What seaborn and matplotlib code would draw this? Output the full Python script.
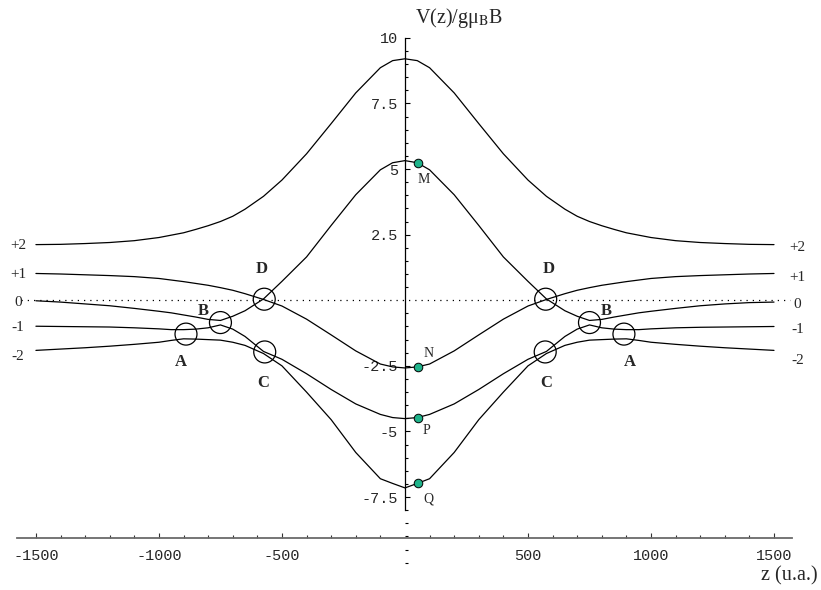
# Zeeman-like levels V(z)/g mu_B B vs z with level crossings A-D
import pandas as pd
import matplotlib
matplotlib.use("Agg")
import matplotlib.pyplot as plt
from matplotlib.ticker import FixedLocator
import seaborn as sns

# -------------------------
# data
# -------------------------
z = [-1500, -1400, -1300, -1200, -1100, -1000, -950, -900, -850, -800,
     -750, -700, -650, -575, -500, -400, -300, -200, -100, -50, 0,
     50, 100, 200, 300, 400, 500, 575, 650, 700, 750, 800,
     850, 900, 950, 1000, 1100, 1200, 1300, 1400, 1500]

v_plus2 = [2.12, 2.13, 2.16, 2.20, 2.27, 2.39, 2.48, 2.57, 2.70, 2.84,
           3.00, 3.20, 3.47, 3.96, 4.58, 5.58, 6.73, 7.90, 8.86, 9.13, 9.20,
           9.13, 8.86, 7.90, 6.73, 5.58, 4.58, 3.96, 3.47, 3.20, 3.00, 2.84,
           2.70, 2.57, 2.48, 2.39, 2.27, 2.20, 2.16, 2.13, 2.12]
v_plus1 = [1.02, 1.00, 0.97, 0.94, 0.90, 0.83, 0.77, 0.71, 0.64, 0.57,
           0.48, 0.38, 0.25, 0.03, -0.22, -0.72, -1.32, -1.93, -2.43, -2.54, -2.58,
           -2.54, -2.43, -1.93, -1.32, -0.72, -0.22, 0.03, 0.25, 0.38, 0.48, 0.57,
           0.64, 0.71, 0.77, 0.83, 0.90, 0.94, 0.97, 1.00, 1.02]
v_zero = [-0.02, -0.07, -0.14, -0.21, -0.31, -0.42, -0.48, -0.56, -0.64, -0.73,
          -0.77, -0.61, -0.40, 0.05, 0.72, 1.65, 2.85, 4.02, 4.97, 5.24, 5.32,
          5.24, 4.97, 4.02, 2.85, 1.65, 0.72, 0.05, -0.40, -0.61, -0.77, -0.73,
          -0.64, -0.56, -0.48, -0.42, -0.31, -0.21, -0.14, -0.09, -0.07]
v_minus1 = [-0.99, -1.00, -1.01, -1.02, -1.05, -1.09, -1.12, -1.12, -1.10, -1.05,
            -0.94, -1.10, -1.38, -1.95, -2.25, -2.80, -3.40, -3.95, -4.35, -4.47, -4.51,
            -4.47, -4.35, -3.95, -3.40, -2.80, -2.25, -1.95, -1.38, -1.10, -0.94, -1.05,
            -1.10, -1.12, -1.12, -1.09, -1.05, -1.03, -1.02, -1.01, -1.00]
v_minus2 = [-1.91, -1.86, -1.81, -1.75, -1.68, -1.60, -1.53, -1.47, -1.48, -1.50,
            -1.52, -1.60, -1.72, -2.03, -2.50, -3.50, -4.55, -5.80, -6.80, -6.98, -7.15,
            -6.98, -6.80, -5.80, -4.55, -3.50, -2.50, -2.03, -1.72, -1.60, -1.52, -1.50,
            -1.48, -1.47, -1.53, -1.60, -1.68, -1.75, -1.81, -1.86, -1.91]

level_names = ["+2", "+1", "0", "-1", "-2"]
level_left = [2.10, 0.97, -0.10, -1.03, -2.15]
level_right = [2.00, 0.85, -0.15, -1.12, -2.28]

# crossings (open circles)
circle_z = [-890, -750, -570, -572, 572, 570, 750, 890]
circle_v = [-1.29, -0.85, -1.97, 0.04, 0.04, -1.97, -0.85, -1.29]
circle_names = ["A", "B", "C", "D", "D", "C", "B", "A"]

# points near z = 0 (green dots)
dot_z = [55, 55, 55, 55]
dot_v = [5.23, -2.55, -4.47, -6.95]
dot_names = ["M", "N", "P", "Q"]

ytick_vals = [-7.5, -5, -2.5, 2.5, 5, 7.5, 10]
ytick_text = ["-7.5", "-5", "-2.5", "2.5", "5", "7.5", "10"]
xtick_vals = [-1500, -1000, -500, 500, 1000, 1500]
xtick_text = ["-1500", "-1000", "-500", "500", "1000", "1500"]

# -------------------------
# long table for seaborn
# -------------------------
curves = {"+2": v_plus2, "+1": v_plus1, "0": v_zero, "-1": v_minus1, "-2": v_minus2}
df = pd.concat([pd.DataFrame({"z": z, "V": v, "curve": name})
                for name, v in curves.items()], ignore_index=True)
circles = pd.DataFrame({"z": circle_z, "V": circle_v, "name": circle_names})
dots = pd.DataFrame({"z": dot_z, "V": dot_v, "name": dot_names})

sns.set_style("white")
plt.rcParams["font.family"] = ["Liberation Serif", "DejaVu Serif"]
plt.rcParams["mathtext.fontset"] = "stix"

fig = plt.figure(figsize=(8.21, 5.90), dpi=100)
ax = fig.add_axes([0, 0, 1, 1])

sns.lineplot(data=df, x="z", y="V", units="curve", estimator=None,
             color="black", lw=0.9, sort=False, ax=ax)
ax.hlines(0, -1560, 1565, colors="black", lw=0.9, linestyles=(0, (1, 4)))

sns.scatterplot(data=circles, x="z", y="V", s=250, facecolor="none",
                edgecolor="black", linewidth=0.9, ax=ax, zorder=3)
sns.scatterplot(data=dots, x="z", y="V", s=38, color="#1fb38a",
                edgecolor="black", linewidth=0.7, ax=ax, zorder=4)

# crossing labels
circ_off = {"A": (4, -20), "B": (12, 8), "C": (1, -22), "D": (2, 22)}
for cz, cv, name in zip(circle_z, circle_v, circle_names):
    dx, dy = circ_off[name]
    if cz < 0:
        dx = -dx
    ax.annotate(name, (cz, cv), xytext=(dx, dy), textcoords="offset points",
                ha="center", va="center", fontsize=12, fontweight="bold")

dot_off = {"M": (4, -12), "N": (7, 9.5), "P": (6, -9.5), "Q": (7, -12)}
for dz, dv, name in zip(dot_z, dot_v, dot_names):
    ax.annotate(name, (dz, dv), xytext=dot_off[name], textcoords="offset points",
                ha="center", va="center", fontsize=10)

# level labels at both ends
for name, yl, yr in zip(level_names, level_left, level_right):
    ax.text(-1573, yl, name, ha="center", va="center", fontsize=11)
    ax.text(1595, yr, name, ha="center", va="center", fontsize=11)

# -------------------------
# Mathematica style axes
# -------------------------
ax.set_xlim(-1646, 1691)
ax.set_ylim(-11.04, 11.44)
for s in ["top", "right"]:
    ax.spines[s].set_visible(False)
ax.spines["left"].set_position(("data", 0))
ax.spines["left"].set_bounds(-8, 10)
ax.spines["left"].set_linewidth(0.9)
ax.spines["left"].set_color("black")
ax.spines["bottom"].set_position(("data", -9.05))
ax.spines["bottom"].set_bounds(-1575, 1575)
ax.spines["bottom"].set_linewidth(1.3)
ax.spines["bottom"].set_color("#6a6a6a")

ax.yaxis.set_major_locator(FixedLocator(ytick_vals))
ax.set_yticklabels(ytick_text)
ax.yaxis.set_minor_locator(FixedLocator(
    [m / 2 for m in range(-20, 21) if m % 5 != 0 and m != 0] + [-10]))
ax.xaxis.set_major_locator(FixedLocator(xtick_vals))
ax.set_xticklabels(xtick_text)
ax.xaxis.set_minor_locator(FixedLocator(
    [m * 100 for m in range(-15, 16) if m % 5 != 0]))

ax.tick_params(axis="y", which="both", left=True, direction="in", width=0.8,
               color="black")
ax.tick_params(axis="y", which="major", length=3.6, pad=5, labelsize=11)
ax.tick_params(axis="y", which="minor", length=2.2)
ax.tick_params(axis="x", which="both", bottom=True, direction="in", width=0.8,
               color="#333333")
ax.tick_params(axis="x", which="major", length=3.8, pad=8, labelsize=11)
ax.tick_params(axis="x", which="minor", length=2.0)
for lab in ax.get_xticklabels() + ax.get_yticklabels():
    lab.set_family("Liberation Mono")

ax.set_xlabel("")
ax.set_ylabel("")
ax.text(41, 10.75, "V(z)/gμ$_{\\mathrm{B}}$B", ha="left", va="center", fontsize=14.5)
ax.text(1678, -10.5, "z (u.a.)", ha="right", va="center", fontsize=14.5)

fig.savefig("out.png", dpi=100)
